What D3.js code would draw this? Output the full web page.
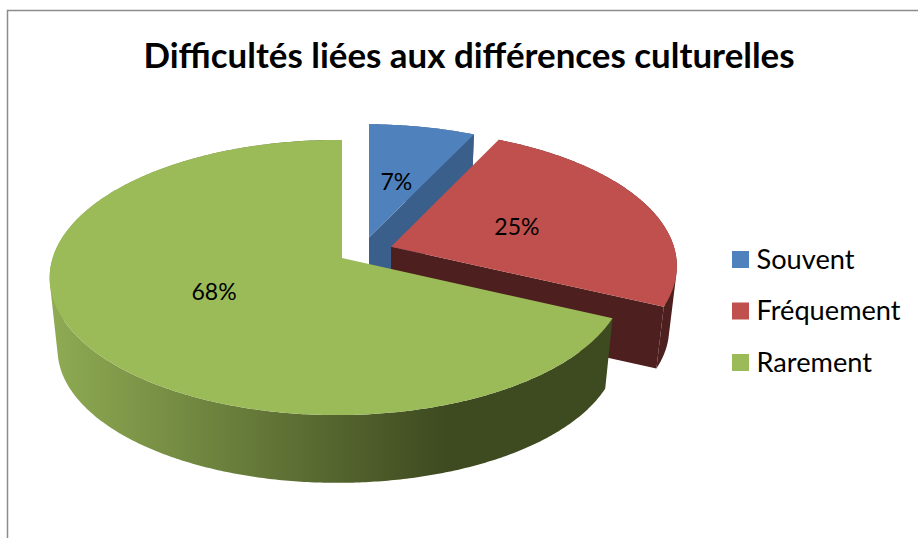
<!DOCTYPE html>
<html>
<head>
<meta charset="utf-8">
<script src="https://cdn.jsdelivr.net/npm/d3@7"></script>
<style>
html,body{margin:0;padding:0;background:#fff;}
svg{display:block;}
text{font-family:Lato,"Noto Sans",sans-serif;fill:#000;}
</style>
</head>
<body>
<svg id="chart" width="918" height="538"></svg>
<script>
const chartTitle = "Difficultés liées aux différences culturelles";
const categories = ["Souvent", "Fréquement", "Rarement"];
const shares = [7, 25, 68];
const topColors = ["#4F81BD", "#C0504D", "#9BBB59"];
const wallColors = ["#3A5F8B", "#4D1F1E", "#3E4A20"];
// Per-slice explosion: sideways in pixels, front-to-back in disc units.
const explodeX = [27, 49, 0];
const explodeY = [-0.155, -0.085, 0];
const sliceScale = [1, 1.02, 1];
const sliceDepth = [72, 63, 72];
const labelRadius = [0.48, 0.48, 0.49];
const labelTurn = [0, 0, 0.07];

const svg = d3.select("#chart");
const defs = svg.append("defs");

// Pie plane to screen: a perspective divide, then linear scales.
const perspFront = 0.1418, perspSide = 0.015;
const xScale = d3.scaleLinear().domain([-1, 1]).range([342 - 285, 342 + 285]);
const yScale = d3.scaleLinear().domain([-1, 1]).range([258 - 134.8, 258 + 134.8]);
const depthShrink = 0.973;

function project(i, X, Y, z) {
  const Xs = X * sliceScale[i], Ys = Y * sliceScale[i] + explodeY[i];
  const s = 1 / (1 - perspFront * Ys + perspSide * Xs);
  const k = z ? depthShrink : 1;
  const px = xScale(0) + (xScale(Xs * s) - xScale(0)) * k + explodeX[i];
  const py = yScale(0) + (yScale(Ys * s) - yScale(0)) * k + (z ? sliceDepth[i] : 0);
  return [px, py];
}

const pie = d3.pie().sort(null).value(d => d)(shares);
const line = d3.line();

const rimPoint = (a, i, z) => project(i, Math.sin(a), -Math.cos(a), z);
const apex = (i, z) => project(i, 0, 0, z);
function arcPoints(i, a0, a1, z) {
  const n = Math.ceil(Math.abs(a1 - a0) / 0.01);
  return d3.range(n + 1).map(k => rimPoint(a0 + (a1 - a0) * k / n, i, z));
}

// Shading of the front rim of the largest slice.
const rimGrad = defs.append("linearGradient").attr("id", "rimGrad")
  .attr("gradientUnits", "userSpaceOnUse")
  .attr("x1", 50).attr("x2", 445).attr("y1", 0).attr("y2", 0);
rimGrad.append("stop").attr("offset", 0).attr("stop-color", "#8FAB53");
rimGrad.append("stop").attr("offset", 1).attr("stop-color", wallColors[2]);

// Chart frame
svg.append("path")
  .attr("d", line([[7.5, 538], [7.5, 10.5], [918, 10.5]]))
  .attr("fill", "none").attr("stroke", "#8C8C8C").attr("stroke-width", 1.5);

svg.append("text")
  .attr("x", 469).attr("y", 68)
  .attr("text-anchor", "middle")
  .attr("font-size", 34.9).attr("font-weight", 700)
  .text(chartTitle);

// Slices are painted back to front.
pie.forEach((d, i) => {
  const g = svg.append("g");
  const fill = i === 2 ? "url(#rimGrad)" : wallColors[i];

  // Cut face that looks toward the viewer
  if (i < 2) {
    const a = d.endAngle;
    g.append("path")
      .attr("d", line([apex(i, 0), rimPoint(a, i, 0), rimPoint(a, i, 1), apex(i, 1)]) + "Z")
      .attr("fill", wallColors[i]);
  }

  // Outer rim, as small quads of one winding so overlaps never cancel out
  const topArc = arcPoints(i, d.startAngle, d.endAngle, 0);
  const lowArc = arcPoints(i, d.startAngle, d.endAngle, 1);
  const quads = d3.range(topArc.length - 1).map(k => {
    const quad = [topArc[k], topArc[k + 1], lowArc[k + 1], lowArc[k]];
    if (d3.polygonArea(quad) < 0) quad.reverse();
    return line(quad) + "Z";
  });
  g.append("path")
    .attr("d", quads.join(""))
    .attr("fill", fill);

  // Top face
  g.append("path")
    .attr("d", line([apex(i, 0)].concat(topArc)) + "Z")
    .attr("fill", topColors[i]);
});

// Percentage labels, anchored near each slice's bisector
pie.forEach((d, i) => {
  const mid = (d.startAngle + d.endAngle) / 2 + labelTurn[i];
  const [lx, ly] = project(i, Math.sin(mid) * labelRadius[i], -Math.cos(mid) * labelRadius[i], 0);
  svg.append("text")
    .attr("x", lx).attr("y", ly)
    .attr("text-anchor", "middle").attr("dominant-baseline", "central")
    .attr("font-size", 23)
    .text(d.value + "%");
});

// Legend
const legendY = d3.scalePoint().domain(categories).range([259.5, 362.5]);
const legend = svg.selectAll("g.legend").data(categories).join("g")
  .attr("class", "legend")
  .attr("transform", d => `translate(732,${legendY(d)})`);
legend.append("rect")
  .attr("x", 0).attr("y", -8.5).attr("width", 17).attr("height", 17)
  .attr("fill", (d, i) => topColors[i]);
legend.append("text")
  .attr("x", 24.5).attr("y", 9)
  .attr("font-size", 27.2)
  .text(d => d);
</script>
</body>
</html>
